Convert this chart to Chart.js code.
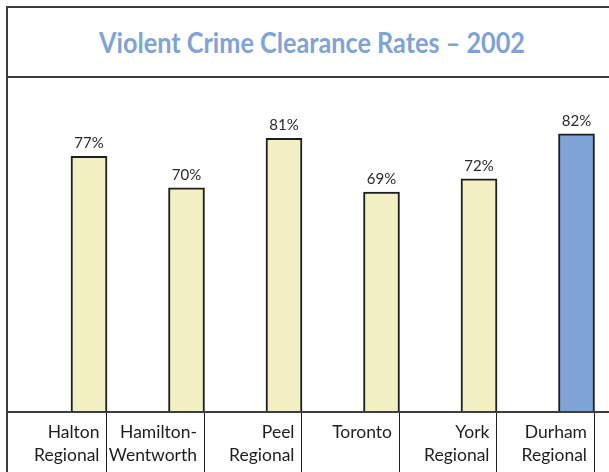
<!DOCTYPE html>
<html>
<head>
<meta charset="utf-8">
<title>Violent Crime Clearance Rates - 2002</title>
<script src="https://cdn.jsdelivr.net/npm/chart.js@4.4.1/dist/chart.umd.min.js"></script>
<style>
  html, body { margin: 0; padding: 0; background: #fff; overflow: hidden; width: 609px; height: 472px; }
  #frame { position: absolute; left: 6px; top: 6px; width: 700px; height: 600px;
           border-left: 2px solid #3d3d3d; border-top: 2px solid #3d3d3d; }
  #title { position: absolute; left: 8px; top: 8px; width: 608px; height: 68px;
           border-bottom: 2px solid #3d3d3d; }
  #title span { position: absolute; left: 0; right: 0; top: 0; line-height: 68px; text-align: center;
                color: #7fa3d6; font-family: Lato, "Liberation Sans", sans-serif; font-weight: bold;
                font-size: 29px; white-space: nowrap; transform: scaleX(0.87); transform-origin: 50% 50%; }
  #chartBox { position: absolute; left: 8px; top: 78px; width: 601px; height: 394px; }
</style>
</head>
<body>
<div id="frame"></div>
<div id="title"><span>Violent Crime Clearance Rates – 2002</span></div>
<div id="chartBox"><canvas id="clearanceChart"></canvas></div>
<script>
  // values
  const regions = [
    ["Halton", "Regional"],
    ["Hamilton-", "Wentworth"],
    ["Peel", "Regional"],
    ["Toronto"],
    ["York", "Regional"],
    ["Durham", "Regional"],
  ];
  const clearanceRates = [77, 70, 81, 69, 72, 82];
  const axisMin = 20;
  const axisMax = 90;

  const labelFont = "Lato, 'Liberation Sans', sans-serif";
  const cream = "#f2efc5";
  const blue = "#7fa3d4";

  // Durham is the highlighted region
  const barColors = regions.map((r, i) => (i === regions.length - 1 ? blue : cream));

  // percentage labels above each bar
  const valueLabels = {
    id: "valueLabels",
    afterDatasetsDraw(chart) {
      const ctx = chart.ctx;
      const meta = chart.getDatasetMeta(0);
      ctx.save();
      ctx.font = "15px " + labelFont;
      ctx.fillStyle = "#2a2a2a";
      ctx.textAlign = "center";
      ctx.textBaseline = "alphabetic";
      meta.data.forEach(function (bar, i) {
        ctx.fillText(clearanceRates[i] + "%", bar.x, bar.y - 8);
      });
      ctx.restore();
    },
  };

  // baseline and the cell dividers of the label row
  const tableLines = {
    id: "tableLines",
    afterDraw(chart) {
      const ctx = chart.ctx;
      const area = chart.chartArea;
      const meta = chart.getDatasetMeta(0);
      ctx.save();
      ctx.strokeStyle = "#1e1e1e";
      ctx.lineWidth = 1;
      meta.data.forEach(function (bar) {
        const x = Math.round(bar.x + bar.width / 2) - 0.5;
        ctx.beginPath();
        ctx.moveTo(x, area.bottom);
        ctx.lineTo(x, chart.height);
        ctx.stroke();
      });
      ctx.strokeStyle = "#3d3d3d";
      ctx.lineWidth = 2;
      ctx.beginPath();
      ctx.moveTo(0, area.bottom);
      ctx.lineTo(chart.width, area.bottom);
      ctx.stroke();
      ctx.restore();
    },
  };

  const ctx = document.getElementById("clearanceChart").getContext("2d");

  const chart = new Chart(ctx, {
    type: "bar",
    data: {
      labels: regions,
      datasets: [
        {
          label: "Clearance rate",
          data: clearanceRates,
          backgroundColor: barColors,
          borderColor: "#1f1f1f",
          borderWidth: 2,
          barThickness: 36,
          // bars may run past the chart area sideways, not below the baseline
          clip: { left: false, right: false, top: false, bottom: 0 },
        },
      ],
    },
    options: {
      responsive: true,
      maintainAspectRatio: false,
      animation: false,
      layout: {
        padding: { left: 81, right: 32.5, top: 20, bottom: 0 },
      },
      plugins: {
        legend: { display: false },
        tooltip: { enabled: false },
      },
      scales: {
        x: {
          type: "category",
          offset: false,
          grid: { display: false },
          border: { display: false },
          ticks: {
            autoSkip: false,
            maxRotation: 0,
            align: "end",
            labelOffset: 10.5,
            padding: 1,
            color: "#1e1e1e",
            font: { family: labelFont, size: 17.5, lineHeight: 1.32 },
          },
          afterFit: function (scale) {
            scale.height = 60;
            scale.paddingLeft = 0;
            scale.paddingRight = 0;
          },
        },
        y: {
          display: false,
          min: axisMin,
          max: axisMax,
        },
      },
    },
    plugins: [valueLabels, tableLines],
  });
</script>
</body>
</html>
